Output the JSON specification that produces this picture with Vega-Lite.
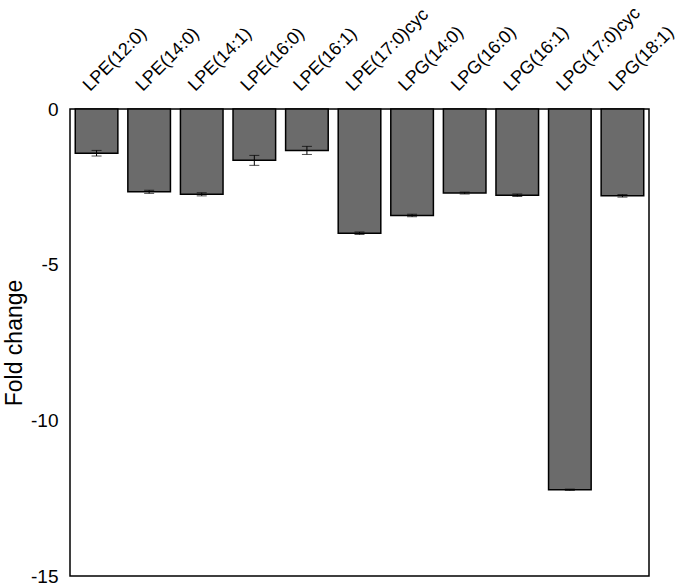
{
  "$schema": "https://vega.github.io/schema/vega-lite/v6.json",
  "autosize": "none",
  "width": 579,
  "height": 467,
  "padding": {"left": 70, "top": 109, "right": 36, "bottom": 9},
  "background": "white",
  "config": {
    "view": {"stroke": "black", "strokeWidth": 1.5},
    "font": "Liberation Sans"
  },
  "data": {
    "values": [
      {"lipid": "LPE(12:0)", "fc": -1.42, "err": 0.09},
      {"lipid": "LPE(14:0)", "fc": -2.66, "err": 0.05},
      {"lipid": "LPE(14:1)", "fc": -2.74, "err": 0.05},
      {"lipid": "LPE(16:0)", "fc": -1.65, "err": 0.16},
      {"lipid": "LPE(16:1)", "fc": -1.33, "err": 0.13},
      {"lipid": "LPE(17:0)cyc", "fc": -3.99, "err": 0.04},
      {"lipid": "LPG(14:0)", "fc": -3.42, "err": 0.04},
      {"lipid": "LPG(16:0)", "fc": -2.70, "err": 0.03},
      {"lipid": "LPG(16:1)", "fc": -2.77, "err": 0.04},
      {"lipid": "LPG(17:0)cyc", "fc": -12.23, "err": 0.02},
      {"lipid": "LPG(18:1)", "fc": -2.79, "err": 0.04}
    ]
  },
  "transform": [
    {"calculate": "datum.fc - datum.err", "as": "lo"},
    {"calculate": "datum.fc + datum.err", "as": "hi"}
  ],
  "encoding": {
    "x": {
      "field": "lipid",
      "type": "nominal",
      "sort": null,
      "scale": {"paddingInner": 0.19, "paddingOuter": 0.1},
      "axis": {
        "orient": "top",
        "title": null,
        "labelAngle": -45,
        "labelAlign": "left",
        "labelBaseline": "middle",
        "labelOffset": -10,
        "labelPadding": 21,
        "labelFontSize": 18,
        "labelColor": "black",
        "ticks": false,
        "domain": false
      }
    }
  },
  "layer": [
    {
      "mark": {"type": "bar", "fill": "#6b6b6b", "stroke": "black", "strokeWidth": 1.5},
      "encoding": {
        "y": {
          "field": "fc",
          "type": "quantitative",
          "scale": {"domain": [-15, 0], "nice": false, "zero": false},
          "axis": {
            "title": "Fold change",
            "titleFontSize": 23,
            "titleFontWeight": "normal",
            "titleColor": "black",
            "titlePadding": 4,
            "values": [0, -5, -10, -15],
            "labelExpr": "replace(format(datum.value, 'd'), '−', '-')",
            "labelFontSize": 19,
            "labelColor": "black",
            "labelPadding": 12,
            "ticks": false,
            "domain": false,
            "grid": false
          }
        }
      }
    },
    {
      "mark": {"type": "rule", "color": "black", "strokeWidth": 1},
      "encoding": {
        "y": {"field": "lo", "type": "quantitative"},
        "y2": {"field": "hi"}
      }
    },
    {
      "mark": {"type": "tick", "color": "black", "size": 10, "thickness": 1, "orient": "horizontal"},
      "encoding": {"y": {"field": "lo", "type": "quantitative"}}
    },
    {
      "mark": {"type": "tick", "color": "black", "size": 10, "thickness": 1, "orient": "horizontal"},
      "encoding": {"y": {"field": "hi", "type": "quantitative"}}
    }
  ]
}
